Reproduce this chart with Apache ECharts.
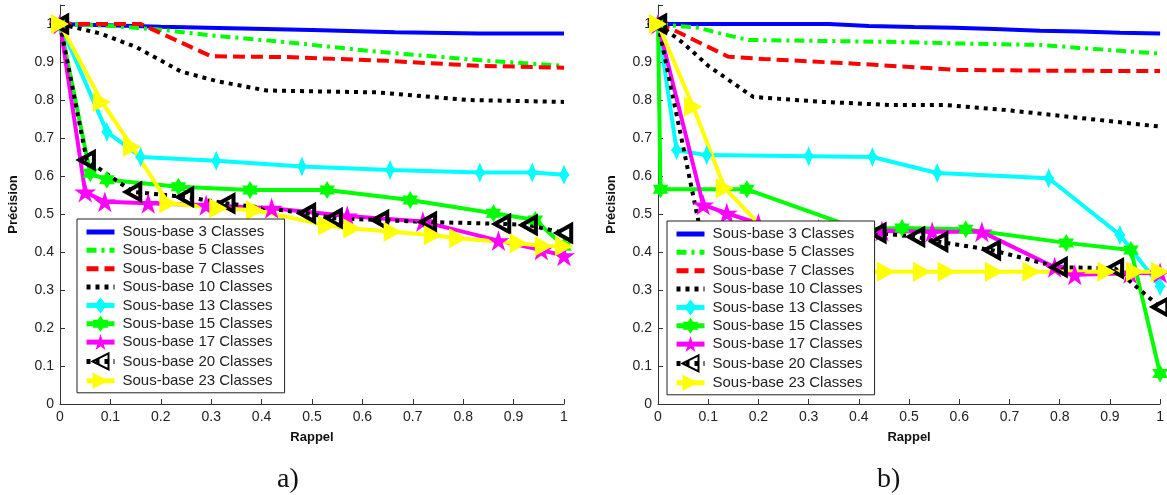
<!DOCTYPE html>
<html>
<head>
<meta charset="utf-8">
<script src="https://cdn.jsdelivr.net/npm/echarts@6/dist/echarts.min.js"></script>
<style>
  html, body { margin: 0; padding: 0; background: #fff; }
  #chart { width: 1167px; height: 495px; }
</style>
</head>
<body>
<div id="chart"></div>
<script>
// noms des courbes
const names = ['Sous-base 3 Classes', 'Sous-base 5 Classes', 'Sous-base 7 Classes', 'Sous-base 10 Classes',
  'Sous-base 13 Classes', 'Sous-base 15 Classes', 'Sous-base 17 Classes', 'Sous-base 20 Classes', 'Sous-base 23 Classes']

// a) [rappel, precision]
const a3 = [[0, 1], [0.2, 0.993], [0.5, 0.984], [0.665, 0.978], [0.833, 0.975], [1, 0.975]]
const a5 = [[0, 1], [0.1, 0.995], [0.2, 0.985], [0.3, 0.97], [0.45, 0.952], [0.63, 0.927], [0.83, 0.905], [1, 0.89]]
const a7 = [[0, 1], [0.16, 1.0], [0.3, 0.915], [0.45, 0.913], [0.65, 0.903], [0.83, 0.89], [1, 0.885]]
const a10 = [[0, 1], [0.08, 0.975], [0.15, 0.94], [0.24, 0.875], [0.31, 0.85], [0.41, 0.825], [0.63, 0.82], [0.81, 0.8], [1, 0.795]]
const a13 = [[0, 1], [0.093, 0.716], [0.16, 0.65], [0.31, 0.64], [0.48, 0.625], [0.655, 0.616], [0.833, 0.609], [0.937, 0.609], [1, 0.603]]
const a15 = [[0, 1], [0.06, 0.607], [0.093, 0.59], [0.235, 0.572], [0.377, 0.563], [0.53, 0.563], [0.695, 0.537], [0.86, 0.502], [0.943, 0.484], [1, 0.415]]
const a17 = [[0, 1], [0.05, 0.558], [0.089, 0.532], [0.175, 0.528], [0.29, 0.523], [0.42, 0.515], [0.57, 0.495], [0.72, 0.48], [0.87, 0.43], [0.955, 0.405], [1, 0.39]]
const a20 = [[0, 1], [0.053, 0.642], [0.145, 0.558], [0.248, 0.545], [0.33, 0.528], [0.49, 0.502], [0.543, 0.489], [0.635, 0.484], [0.73, 0.479], [0.877, 0.474], [0.93, 0.471], [1, 0.45]]
const a23 = [[0, 1], [0.083, 0.795], [0.143, 0.677], [0.215, 0.528], [0.314, 0.515], [0.387, 0.51], [0.53, 0.47], [0.58, 0.462], [0.66, 0.453], [0.74, 0.444], [0.79, 0.436], [0.91, 0.423], [0.96, 0.415], [1, 0.415]]

// b)
const b3 = [[0, 1], [0.34, 1.0], [0.42, 0.995], [0.51, 0.992], [0.59, 0.99], [0.67, 0.987], [0.76, 0.982], [0.84, 0.98], [0.92, 0.977], [1, 0.975]]
const b5 = [[0, 1], [0.08, 0.99], [0.14, 0.97], [0.18, 0.958], [0.46, 0.953], [0.59, 0.949], [0.76, 0.945], [0.84, 0.937], [1, 0.922]]
const b7 = [[0, 1], [0.03, 0.985], [0.14, 0.914], [0.21, 0.908], [0.4, 0.895], [0.6, 0.879], [0.8, 0.877], [1, 0.876]]
const b10 = [[0, 1], [0.05, 0.95], [0.1, 0.89], [0.16, 0.835], [0.19, 0.808], [0.33, 0.795], [0.46, 0.787], [0.57, 0.787], [0.69, 0.774], [0.79, 0.76], [1, 0.73]]
const b13 = [[0, 1], [0.037, 0.668], [0.097, 0.655], [0.30, 0.652], [0.427, 0.65], [0.556, 0.608], [0.778, 0.594], [0.92, 0.445], [1, 0.31]]
const b15 = [[0, 1], [0.005, 0.565], [0.177, 0.565], [0.40, 0.46], [0.486, 0.463], [0.613, 0.46], [0.813, 0.424], [0.942, 0.405], [1, 0.08]]
const b17 = [[0, 1], [0.09, 0.524], [0.137, 0.502], [0.2, 0.475], [0.32, 0.46], [0.446, 0.455], [0.546, 0.453], [0.645, 0.453], [0.79, 0.36], [0.83, 0.34], [0.94, 0.344], [1, 0.345]]
const b20 = [[0, 1], [0.085, 0.452], [0.25, 0.452], [0.437, 0.45], [0.514, 0.44], [0.56, 0.427], [0.665, 0.405], [0.798, 0.36], [0.91, 0.357], [1, 0.255]]
const b23 = [[0, 1], [0.07, 0.782], [0.133, 0.568], [0.29, 0.35], [0.454, 0.348], [0.526, 0.348], [0.575, 0.348], [0.669, 0.348], [0.744, 0.348], [0.893, 0.348], [0.95, 0.348], [1, 0.348]]

const panelA = [a3, a5, a7, a10, a13, a15, a17, a20, a23]
const panelB = [b3, b5, b7, b10, b13, b15, b17, b20, b23]

// marqueurs (style matlab)
const star4 = 'path://M0,-10L3.6,-3.6L7.5,0L3.6,3.6L0,10L-3.6,3.6L-7.5,0L-3.6,-3.6Z'
const hexa = 'path://M0,-10L2.89,-5L8.66,-5L5.77,0L8.66,5L2.89,5L0,10L-2.89,5L-8.66,5L-5.77,0L-8.66,-5L-2.89,-5Z'
const penta = 'path://M0,-10L2.23,-3.07L9.51,-3.09L3.61,1.17L5.88,8.09L0,3.8L-5.88,8.09L-3.61,1.17L-9.51,-3.09L-2.23,-3.07Z'
const triL = 'path://M0,5L9,0L9,10Z'
const triR = 'path://M9,5L0,0L0,10Z'

const styles = [
  { color: '#0000ff', type: 'solid', width: 4 },
  { color: '#00ff00', type: [10, 5, 3, 5], width: 4 },
  { color: '#ff0000', type: [12, 6], width: 4 },
  { color: '#000000', type: [4, 5], width: 4 },
  { color: '#00ffff', type: 'solid', width: 4, symbol: star4, size: [15, 20] },
  { color: '#00ff00', type: 'solid', width: 4, symbol: hexa, size: 18 },
  { color: '#ff00ff', type: 'solid', width: 4, symbol: penta, size: 22 },
  { color: '#000000', type: [4, 5], width: 4, symbol: triL, size: 16, hollow: true },
  { color: '#ffff00', type: 'solid', width: 4, symbol: triR, size: 20 }
]

function makeSeries (list, idx) {
  return list.map((d, i) => {
    const s = styles[i]
    let item = { color: s.color }
    if (s.hollow) item = { color: 'rgba(255,255,255,0)', borderColor: s.color, borderWidth: 4 }
    // pas de marqueur : symbole invisible (aussi dans la legende)
    if (!s.symbol) item = { color: 'rgba(0,0,0,0)' }
    return {
      name: names[i],
      type: 'line',
      xAxisIndex: idx,
      yAxisIndex: idx,
      data: d,
      clip: false,
      symbol: s.symbol || 'circle',
      symbolSize: s.size || 1,
      symbolKeepAspect: true,
      showSymbol: !!s.symbol,
      lineStyle: { color: s.color, type: s.type, width: s.width, cap: 'butt' },
      itemStyle: item,
      emphasis: { disabled: true }
    }
  })
}

const tickFont = { fontFamily: 'Liberation Sans', fontSize: 14, color: '#222' }

function xAx (grid) {
  return {
    type: 'value', gridIndex: grid, min: 0, max: 1, interval: 0.1,
    name: 'Rappel', nameLocation: 'middle', nameGap: 27,
    nameTextStyle: { fontFamily: 'Liberation Sans', fontWeight: 'bold', fontSize: 13, color: '#111' },
    axisLine: { lineStyle: { color: '#333', width: 1 } },
    axisTick: { inside: true, length: 5, lineStyle: { color: '#333' } },
    axisLabel: Object.assign({ margin: 6, formatter: v => String(+v.toFixed(1)) }, tickFont),
    splitLine: { show: false }
  }
}

function yAx (grid) {
  return {
    type: 'value', gridIndex: grid, min: 0, max: 1.05, interval: 0.1,
    name: 'Précision', nameLocation: 'middle', nameGap: 40, nameRotate: 90,
    nameTextStyle: { fontFamily: 'Liberation Sans', fontWeight: 'bold', fontSize: 13, color: '#111' },
    axisLine: { lineStyle: { color: '#333', width: 1 } },
    axisTick: { inside: true, length: 5, lineStyle: { color: '#333' } },
    axisLabel: Object.assign({ margin: 6, formatter: v => (v > 1.001 ? '' : String(+v.toFixed(1))) }, tickFont),
    splitLine: { show: false }
  }
}

function legendAt (left, top) {
  return {
    orient: 'vertical', left: left, top: top,
    data: names, selectedMode: false,
    backgroundColor: '#fff', borderColor: '#222', borderWidth: 1, borderRadius: 0,
    padding: [5, 12, 4, 7],
    itemWidth: 28, itemHeight: 20, itemGap: 2.35,
    lineStyle: { width: 5 },
    textStyle: { fontFamily: 'Liberation Sans', fontSize: 15, color: '#222', padding: [0, 0, 0, 3] }
  }
}

const chart = echarts.init(document.getElementById('chart'))
chart.setOption({
  animation: false,
  backgroundColor: '#fff',
  grid: [
    { left: 60, right: 603, top: 5, bottom: 91 },
    { left: 658, right: 5, top: 5, bottom: 91 }
  ],
  xAxis: [xAx(0), xAx(1)],
  yAxis: [yAx(0), yAx(1)],
  legend: [legendAt(77, 219), legendAt(667, 221)],
  graphic: [
    { type: 'text', left: 277, top: 466, style: { text: 'a)', font: '28px "Liberation Serif"', fill: '#111' } },
    { type: 'text', left: 877, top: 466, style: { text: 'b)', font: '28px "Liberation Serif"', fill: '#111' } }
  ],
  series: makeSeries(panelA, 0).concat(makeSeries(panelB, 1))
})
</script>
</body>
</html>
